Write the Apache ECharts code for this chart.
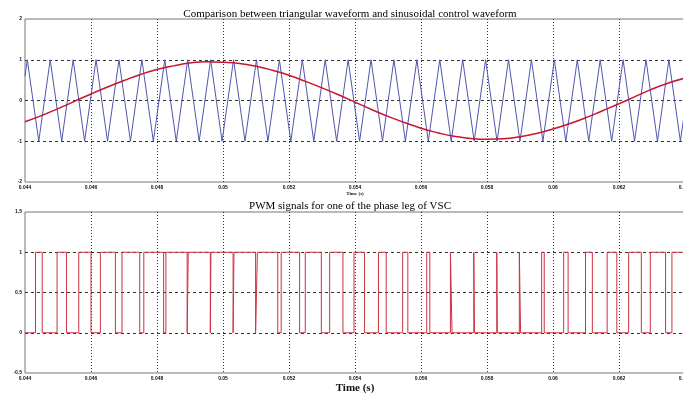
<!DOCTYPE html>
<html>
<head>
<meta charset="utf-8">
<script src="https://cdn.jsdelivr.net/npm/echarts@6/dist/echarts.min.js"></script>
<style>
  html, body { margin: 0; padding: 0; background: #fff; }
  #main { width: 683px; height: 396px; }
</style>
</head>
<body>
<div id="main"></div>
<script>
// carrier (triangle) vertices
var carrierStart = [0.044, 0.6];
var carrierEnd = [0.064, -0.19];
var carrierPeaks = [0.044070, 0.044764, 0.045459, 0.046153, 0.046848, 0.047542, 0.048236, 0.048931,
    0.049625, 0.050320, 0.051014, 0.051708, 0.052403, 0.053097, 0.053792, 0.054486, 0.055180,
    0.055875, 0.056569, 0.057264, 0.057958, 0.058652, 0.059347, 0.060041, 0.060736, 0.061430,
    0.062124, 0.062819, 0.063513];
var carrierTroughs = [0.044417, 0.045111, 0.045806, 0.046500, 0.047195, 0.047889, 0.048583, 0.049278,
    0.049972, 0.050667, 0.051361, 0.052055, 0.052750, 0.053444, 0.054139, 0.054833, 0.055527,
    0.056222, 0.056916, 0.057611, 0.058305, 0.058999, 0.059694, 0.060388, 0.061083, 0.061777,
    0.062471, 0.063166, 0.063860];

// sinusoidal control waveform samples
var sineTime = [0.0440, 0.0445, 0.0450, 0.0455, 0.0460, 0.0465, 0.0470, 0.0475, 0.0480, 0.0485,
    0.0490, 0.0495, 0.0500, 0.0505, 0.0510, 0.0515, 0.0520, 0.0525, 0.0530, 0.0535,
    0.0540, 0.0545, 0.0550, 0.0555, 0.0560, 0.0565, 0.0570, 0.0575, 0.0580, 0.0585,
    0.0590, 0.0595, 0.0600, 0.0605, 0.0610, 0.0615, 0.0620, 0.0625, 0.0630, 0.0635, 0.0640];
var sineValue = [-0.52, -0.37, -0.20, -0.02, 0.16, 0.33, 0.49, 0.64, 0.76, 0.85,
    0.92, 0.95, 0.94, 0.91, 0.84, 0.74, 0.62, 0.47, 0.31, 0.14,
    -0.04, -0.22, -0.39, -0.54, -0.68, -0.79, -0.88, -0.93, -0.95, -0.94,
    -0.89, -0.81, -0.70, -0.57, -0.42, -0.25, -0.08, 0.10, 0.28, 0.43, 0.55];

// PWM switching instants (0 -> 1 and 1 -> 0)
var pwmOn = [0.044318, 0.044972, 0.045629, 0.046284, 0.046939, 0.047600, 0.048269, 0.048947,
    0.049634, 0.050333, 0.051043, 0.051763, 0.052493, 0.053232, 0.053970, 0.054711, 0.055445,
    0.056173, 0.056892, 0.057600, 0.058296, 0.058980, 0.059656, 0.060323, 0.060985, 0.061641,
    0.062293, 0.062948, 0.063604];
var pwmOff = [0.044521, 0.045259, 0.046001, 0.046740, 0.047477, 0.048201, 0.048914, 0.049616,
    0.050306, 0.050988, 0.051659, 0.052321, 0.052980, 0.053635, 0.054290, 0.054945, 0.055601,
    0.056267, 0.056940, 0.057622, 0.058314, 0.059018, 0.059734, 0.060458, 0.061192, 0.061934,
    0.062677, 0.063411];

var topTicks = [-2, -1, 0, 1, 2];
var bottomTicks = [-0.5, 0, 0.5, 1, 1.5];

var carrierData = [carrierStart];
for (var i = 0; i < carrierPeaks.length; i++) {
    carrierData.push([carrierPeaks[i], 1]);
    carrierData.push([carrierTroughs[i], -1]);
}
carrierData.push(carrierEnd);

var sineData = sineTime.map(function(t, i) { return [t, sineValue[i]]; });

var pwmData = [[0.044, 0]];
for (var j = 0; j < pwmOn.length; j++) {
    pwmData.push([pwmOn[j], 0], [pwmOn[j], 1]);
    if (j < pwmOff.length) {
        pwmData.push([pwmOff[j], 1], [pwmOff[j], 0]);
    }
}
pwmData.push([0.064, 1]);

var chart = echarts.init(document.getElementById('main'));

var tickLabel = {
    fontSize: 5,
    fontWeight: 'bold',
    color: '#111',
    fontFamily: 'Liberation Sans',
    margin: 3
};

function xAxisCfg(idx, name, nameStyle, nameGap) {
    return {
        type: 'value',
        gridIndex: idx,
        min: 0.044,
        max: 0.064,
        interval: 0.002,
        name: name,
        nameLocation: 'middle',
        nameGap: nameGap,
        nameTextStyle: nameStyle,
        axisLine: { show: false },
        axisTick: { show: false },
        axisLabel: tickLabel,
        splitLine: {
            show: true,
            showMinLine: false,
            showMaxLine: false,
            lineStyle: { color: '#333', width: 1, type: [1, 2] }
        }
    };
}

function yAxisCfg(idx, ticks) {
    return {
        type: 'value',
        gridIndex: idx,
        min: ticks[0],
        max: ticks[ticks.length - 1],
        interval: ticks[1] - ticks[0],
        axisLine: { show: false },
        axisTick: { show: false },
        axisLabel: tickLabel,
        splitLine: {
            show: true,
            showMinLine: false,
            showMaxLine: false,
            lineStyle: { color: '#333', width: 1, type: [3, 3] }
        }
    };
}

var option = {
    animation: false,
    backgroundColor: '#fff',
    title: [{
        text: 'Comparison between triangular waveform and sinusoidal control waveform',
        left: 345,
        textAlign: 'center',
        top: 4,
        textStyle: { fontFamily: 'Liberation Serif', fontSize: 11, fontWeight: 'normal', color: '#000' }
    }, {
        text: 'PWM signals for one of the phase leg of VSC',
        left: 345,
        textAlign: 'center',
        top: 196,
        textStyle: { fontFamily: 'Liberation Serif', fontSize: 11, fontWeight: 'normal', color: '#000' }
    }],
    grid: [{
        left: 25, top: 19, width: 660, height: 163,
        outerBoundsMode: 'none',
        show: true, borderColor: '#777', borderWidth: 1
    }, {
        left: 25, top: 212, width: 660, height: 161,
        outerBoundsMode: 'none',
        show: true, borderColor: '#777', borderWidth: 1
    }],
    xAxis: [
        xAxisCfg(0, 'Time (s)', { fontSize: 5, fontWeight: 'bold', color: '#111', fontFamily: 'Liberation Serif' }, 9),
        xAxisCfg(1, 'Time (s)', { fontSize: 11, fontWeight: 'bold', color: '#111', fontFamily: 'Liberation Serif' }, 10)
    ],
    yAxis: [yAxisCfg(0, topTicks), yAxisCfg(1, bottomTicks)],
    series: [{
        name: 'carrier',
        type: 'line',
        xAxisIndex: 0,
        yAxisIndex: 0,
        data: carrierData,
        showSymbol: false,
        lineStyle: { color: '#5056ad', width: 1 },
        z: 3
    }, {
        name: 'control',
        type: 'line',
        xAxisIndex: 0,
        yAxisIndex: 0,
        data: sineData,
        smooth: true,
        showSymbol: false,
        lineStyle: { color: '#c8142e', width: 1.5 },
        z: 4
    }, {
        name: 'pwm',
        type: 'line',
        xAxisIndex: 1,
        yAxisIndex: 1,
        data: pwmData,
        showSymbol: false,
        lineStyle: { color: '#cc3340', width: 1 },
        z: 3
    }]
};

chart.setOption(option);
</script>
</body>
</html>
